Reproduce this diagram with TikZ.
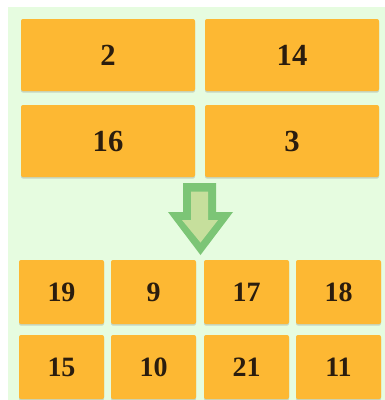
\documentclass[tikz,border=0pt]{standalone}
\usepackage{fontspec}
\setmainfont{Liberation Serif}
\usepackage{xcolor}
\usetikzlibrary{shadows}
\definecolor{pagegreen}{HTML}{E6FCE0}
\definecolor{cardorange}{HTML}{FDB833}
\definecolor{cardtext}{HTML}{2B1D0E}
\definecolor{arrowdark}{HTML}{7CC576}
\definecolor{arrowlight}{HTML}{C6DF9C}

\begin{document}
\begin{tikzpicture}[x=0.75pt,y=-0.75pt]
  \tikzset{card/.style={fill=cardorange, rounded corners=1.5pt, inner sep=0pt,
      text=cardtext, font=\bfseries,
      drop shadow={shadow xshift=0pt, shadow yshift=-1.2pt, opacity=0.25, fill=black!60}}}
  \tikzset{bigcard/.style={card, minimum width=130.5pt, minimum height=54pt, font=\fontsize{23}{23}\bfseries\selectfont}}
  \tikzset{smallcard/.style={card, minimum width=63.75pt, minimum height=48pt, font=\fontsize{21}{21}\bfseries\selectfont}}

  \useasboundingbox (0,0) rectangle (385,400);
  \fill[white] (0,0) rectangle (385,400);
  \fill[pagegreen] (8,7) rectangle (385,400);

  \begin{scope}
  \clip (0,0) rectangle (385,400);
   \node[bigcard] (a2)  at (108,55)  {2};
   \node[bigcard] (a14) at (292,55)  {14};
   \node[bigcard] (a16) at (108,141) {16};
   \node[bigcard] (a3)  at (292,141) {3};

   \node[smallcard] (b19) at (61.5,292)  {19};
   \node[smallcard] (b9)  at (153.5,292) {9};
   \node[smallcard] (b17) at (246.5,292) {17};
   \node[smallcard] (b18) at (338.5,292) {18};
   \node[smallcard] (b15) at (61.5,367)  {15};
   \node[smallcard] (b10) at (153.5,367) {10};
   \node[smallcard] (b21) at (246.5,367) {21};
   \node[smallcard] (b11) at (338.5,367) {11};
  \end{scope}

  % down arrow
  \fill[arrowdark] (183,183) -- (216,183) -- (216,212) -- (233,212) -- (200.5,255)
    -- (168,212) -- (183,212) -- cycle;
  \fill[arrowlight] (191,191.5) -- (208,191.5) -- (208,220) -- (218,220) -- (200.5,242.5)
    -- (182,220) -- (191,220) -- cycle;
\end{tikzpicture}
\end{document}
